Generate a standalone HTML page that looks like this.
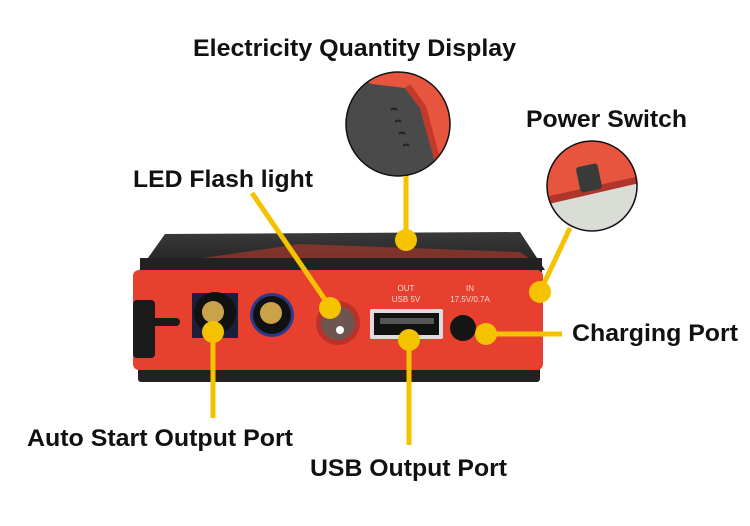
<!DOCTYPE html>
<html><head><meta charset="utf-8"><style>
html,body{margin:0;padding:0;background:#fff;}
svg{display:block}
text{font-family:"Liberation Sans",Arial,sans-serif;font-weight:bold;fill:#111;}
.s{fill:#f5d8d0;font-weight:normal}
</style></head><body>
<svg width="750" height="526" viewBox="0 0 750 526" xmlns="http://www.w3.org/2000/svg">
<defs>
<clipPath id="c1"><circle cx="398" cy="124" r="52"/></clipPath>
<clipPath id="c2"><circle cx="592" cy="186" r="45"/></clipPath>
<linearGradient id="top" x1="0" y1="0" x2="0" y2="1"><stop offset="0" stop-color="#3a3a3a"/><stop offset="1" stop-color="#1e1e1e"/></linearGradient>
</defs>
<text x="193" y="56" font-size="24" textLength="323" lengthAdjust="spacingAndGlyphs">Electricity Quantity Display</text>
<text x="526" y="127" font-size="24" textLength="161" lengthAdjust="spacingAndGlyphs">Power Switch</text>
<text x="133" y="187" font-size="24" textLength="180" lengthAdjust="spacingAndGlyphs">LED Flash light</text>
<text x="572" y="341" font-size="24" textLength="166" lengthAdjust="spacingAndGlyphs">Charging Port</text>
<text x="27" y="446" font-size="24" textLength="266" lengthAdjust="spacingAndGlyphs">Auto Start Output Port</text>
<text x="310" y="476" font-size="24" textLength="197" lengthAdjust="spacingAndGlyphs">USB Output Port</text>

<g clip-path="url(#c1)">
<rect x="340" y="70" width="120" height="110" fill="#e8553f"/>
<polygon points="340,70 340,180 440,180 420,108 405,88 372,84" fill="#4a4a4a"/>
<polygon points="405,88 420,108 440,180 446,180 426,106 410,84" fill="#c43a2a"/>
<path d="M391,110 q3,-3 6,0 M395,122 q3,-3 6,0 M399,134 q3,-3 6,0 M403,146 q3,-3 6,0" stroke="#222" stroke-width="2" fill="none"/>
</g>
<circle cx="398" cy="124" r="52" fill="none" stroke="#111" stroke-width="1.5"/>

<g clip-path="url(#c2)">
<rect x="540" y="135" width="110" height="100" fill="#e8553f"/>
<polygon points="540,200 640,178 640,235 540,235" fill="#d9ddd6"/>
<polygon points="540,198 640,176 640,183 540,206" fill="#b0352a"/>
<rect x="578" y="165" width="22" height="26" rx="3" fill="#3a3a3a" transform="rotate(-12 589 178)"/>
<polygon points="540,150 560,143 560,155 540,162" fill="#333"/>
</g>
<circle cx="592" cy="186" r="45" fill="none" stroke="#111" stroke-width="1.5"/>

<polygon points="138,272 165,234 520,232 545,270" fill="url(#top)"/>
<polygon points="175,262 300,244 520,252 540,266 190,266" fill="#b83a2c" opacity="0.6"/>
<rect x="140" y="258" width="402" height="14" fill="#222"/>
<rect x="138" y="366" width="402" height="16" rx="3" fill="#222"/>
<rect x="133" y="270" width="410" height="100" rx="6" fill="#e8402f"/>
<rect x="133" y="300" width="22" height="58" rx="4" fill="#1a1a1a"/>
<rect x="150" y="318" width="30" height="8" rx="4" fill="#1a1a1a"/>
<rect x="192" y="293" width="46" height="45" fill="#1b1f3a"/>
<circle cx="215" cy="313" r="21" fill="#111"/>
<circle cx="213" cy="312" r="11" fill="#c9a24a"/>
<circle cx="272" cy="315" r="22" fill="#2b3a8a"/>
<circle cx="272" cy="315" r="19" fill="#111"/>
<circle cx="271" cy="313" r="11" fill="#c9a24a"/>
<circle cx="338" cy="323" r="22" fill="#b8322a"/>
<circle cx="338" cy="323" r="17" fill="#6e5550"/>
<circle cx="340" cy="330" r="4" fill="#fff"/>
<rect x="370" y="309" width="73" height="30" rx="2" fill="#ddd"/>
<rect x="374" y="313" width="65" height="22" fill="#111"/>
<rect x="380" y="318" width="54" height="6" fill="#555"/>
<circle cx="463" cy="328" r="13" fill="#151515"/>
<text x="406" y="291" font-size="8" class="s" text-anchor="middle">OUT</text>
<text x="406" y="302" font-size="8" class="s" text-anchor="middle">USB 5V</text>
<text x="470" y="291" font-size="8" class="s" text-anchor="middle">IN</text>
<text x="470" y="302" font-size="8" class="s" text-anchor="middle">17.5V/0.7A</text>

<g stroke="#f5c200" stroke-width="5" fill="none">
<line x1="406" y1="176" x2="406" y2="240"/>
<line x1="570" y1="228" x2="540" y2="292"/>
<line x1="252" y1="193" x2="330" y2="307"/>
<line x1="213" y1="332" x2="213" y2="418"/>
<line x1="409" y1="340" x2="409" y2="445"/>
<line x1="486" y1="334" x2="562" y2="334"/>
</g>
<g fill="#f5c200">
<circle cx="406" cy="240" r="11"/>
<circle cx="540" cy="292" r="11"/>
<circle cx="330" cy="308" r="11"/>
<circle cx="213" cy="332" r="11"/>
<circle cx="409" cy="340" r="11"/>
<circle cx="486" cy="334" r="11"/>
</g>
</svg>
</body></html>
